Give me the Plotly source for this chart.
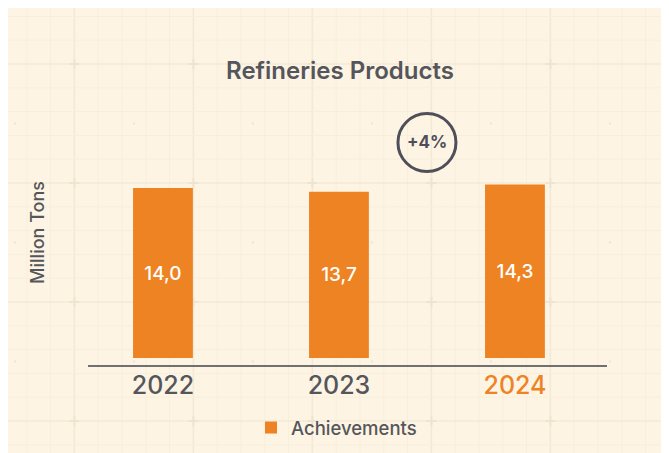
import plotly.graph_objects as go

# ---- data ----
years = ["2022", "2023", "2024"]
achievements = [14.0, 13.7, 14.3]
series_name = "Achievements"
title_text = "Refineries Products"
y_title = "Million Tons"

# ---- style ----
W, H = 669, 453
OFF = 8  # page body margin offset of the figure in the screenshot
FONT = "Inter, 'Noto Sans', sans-serif"
ORANGE = "#EE8323"
GREY = "#55565C"
DARK = "#4F4F59"
CREAM = "#FDF4E3"
MINOR = "#F8EEDD"
MAJOR = "#F4E9D6"
CROSS = "#EFE4D1"


def fx(p):
    return (p - OFF) / W


def fy(p):
    return 1 - (p - OFF) / H


change = (achievements[-1] - achievements[-2]) / achievements[-2] * 100
change_text = f"+{round(change)}%" if change >= 0 else f"{round(change)}%"

ticktext = [y for y in years[:-1]] + [f'<span style="color:{ORANGE}">{years[-1]}</span>']

# ---- decorative graph-paper background (shapes, screen-pixel based) ----
bg_shapes = []
STEP = 23.8
X0, Y0 = 74.4, 64.0
for k in range(-2, 26):
    sx = X0 + STEP * k
    if sx < OFF or sx > 669:
        continue
    major = k % 5 == 0
    bg_shapes.append(dict(type="line", xref="paper", yref="paper", x0=fx(sx), x1=fx(sx),
                          y0=0, y1=1, layer="below",
                          line=dict(color=MAJOR if major else MINOR, width=1.6 if major else 1)))
for k in range(-2, 18):
    sy = Y0 + STEP * k
    if sy < OFF or sy > 453:
        continue
    major = k % 5 == 0
    bg_shapes.append(dict(type="line", xref="paper", yref="paper", x0=0, x1=1,
                          y0=fy(sy), y1=fy(sy), layer="below",
                          line=dict(color=MAJOR if major else MINOR, width=1.6 if major else 1)))
# crosses at major intersections and dots at major-cell centres
for i in range(0, 5):
    for j in range(0, 4):
        cx = X0 + 119 * i
        cy = Y0 + 119 * j
        bg_shapes.append(dict(type="line", xref="paper", yref="paper", x0=fx(cx - 5), x1=fx(cx + 5),
                              y0=fy(cy), y1=fy(cy), layer="below", line=dict(color=CROSS, width=2)))
        bg_shapes.append(dict(type="line", xref="paper", yref="paper", x0=fx(cx), x1=fx(cx),
                              y0=fy(cy - 5), y1=fy(cy + 5), layer="below", line=dict(color=CROSS, width=2)))
        dx, dy = cx + 59.5, cy + 59.5
        if dx < 669 and dy < 453:
            bg_shapes.append(dict(type="rect", xref="paper", yref="paper", x0=fx(dx - 1), x1=fx(dx + 1),
                                  y0=fy(dy - 1), y1=fy(dy + 1), layer="below",
                                  fillcolor=CROSS, line=dict(width=0)))
    dx, dy = X0 - 59.5, Y0 + 119 * i + 59.5
    if dy < 453:
        bg_shapes.append(dict(type="rect", xref="paper", yref="paper", x0=fx(dx - 1), x1=fx(dx + 1),
                              y0=fy(dy - 1), y1=fy(dy + 1), layer="below",
                              fillcolor=CROSS, line=dict(width=0)))

fig = go.Figure()
fig.add_trace(go.Bar(
    x=years, y=achievements,
    name=series_name, marker=dict(color=ORANGE, line=dict(width=0)),
    width=0.34,
    texttemplate="%{y:.1f}", textposition="inside", insidetextanchor="middle",
    textfont=dict(color="white", size=19, family=FONT, weight=500),
    constraintext="none", hoverinfo="x+y",
))

fig.update_layout(
    width=W, height=H,
    margin=dict(l=0, r=0, t=0, b=0, autoexpand=False),
    paper_bgcolor=CREAM, plot_bgcolor="rgba(0,0,0,0)",
    separators=",.",
    font=dict(family=FONT, color=GREY),
    title=dict(text=title_text, x=fx(340), xanchor="center", y=fy(71), yanchor="middle",
               font=dict(size=24, color=GREY, weight=600, family=FONT)),
    xaxis=dict(domain=[fx(88), fx(607)], type="category",
               range=[-0.426, 2.523], showline=True, linecolor="#707070", linewidth=1.5,
               ticks="", tickvals=years, ticktext=ticktext, ticklabelstandoff=-3,
               tickfont=dict(size=25, color=GREY, family=FONT, weight=500),
               showgrid=False, zeroline=False, fixedrange=True),
    yaxis=dict(domain=[fy(365), fy(100)], range=[-0.577, 21.25],
               showticklabels=False, showgrid=False, zeroline=False, ticks="",
               title=dict(text=y_title, font=dict(size=18, color=GREY, family=FONT, weight=500),
                          standoff=37),
               fixedrange=True),
    showlegend=True,
    legend=dict(orientation="h", x=fx(251), xanchor="left", y=fy(428), yanchor="middle",
                bgcolor="rgba(0,0,0,0)", font=dict(size=18.5, color=GREY, family=FONT, weight=500)),
    shapes=bg_shapes + [
        dict(type="circle", xref="x", yref="y", xsizemode="pixel", ysizemode="pixel",
             xanchor=1.5, yanchor=17.75, x0=-29, x1=29, y0=-29, y1=29,
             line=dict(color=DARK, width=3), fillcolor="rgba(0,0,0,0)"),
    ],
    annotations=[
        dict(text=change_text, x=1.5, y=17.75, xref="x", yref="y", showarrow=False,
             font=dict(size=17, color=DARK, family=FONT, weight=700)),
    ],
)

fig.write_html("out.html")
